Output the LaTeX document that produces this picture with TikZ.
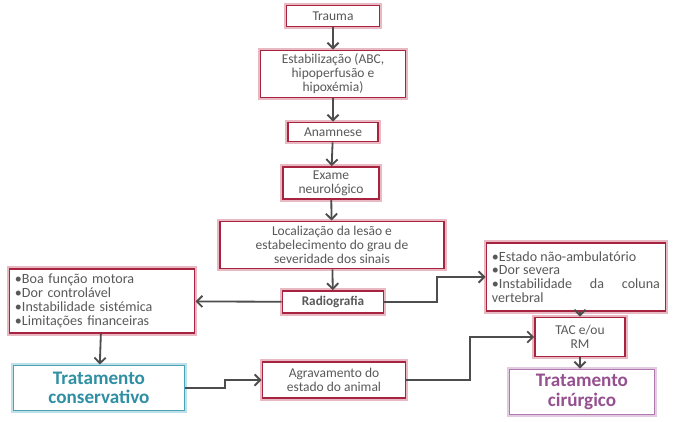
\documentclass[tikz,border=0pt]{standalone}
\usepackage{fontspec}
\setmainfont{Carlito}
\usetikzlibrary{arrows.meta}

\definecolor{boxred}{HTML}{A82340}
\definecolor{boxglow}{HTML}{E9B9C3}
\definecolor{tealline}{HTML}{4AA3B6}
\definecolor{tealglow}{HTML}{BFE0E8}
\definecolor{tealtext}{HTML}{2F8FA3}
\definecolor{purpline}{HTML}{B07AAE}
\definecolor{purpglow}{HTML}{E3CCE1}
\definecolor{purptext}{HTML}{955090}
\definecolor{txtgray}{HTML}{595959}
\definecolor{linkgray}{HTML}{4D4D4D}

\newcommand{\nohyph}{\hyphenpenalty=10000\relax}

\tikzset{
	box/.style={draw=boxred, line width=1.2pt, fill=white,
		preaction={draw=boxglow, line width=4pt},
		text=txtgray, font=\fontsize{9.6}{10}\selectfont, align=center, inner sep=1.5pt},
	listbox/.style={box, align=left, font=\fontsize{10}{9.8}\selectfont\nohyph, inner sep=4pt},
	endbox/.style={box, font=\fontsize{13.6}{14}\selectfont\bfseries},
	link/.style={draw=linkgray, line width=1.3pt, -{Straight Barb[length=4pt,width=8pt]}}
}

\begin{document}
\begin{tikzpicture}[x=0.025cm, y=-0.025cm]
	\useasboundingbox (0,0) rectangle (680,422);

	\begin{scope}
		\node [box, minimum width=2.33cm, minimum height=0.53cm] (trauma) at (333,16) {Trauma};
		\node [box, minimum width=3.63cm, minimum height=1.18cm] (estab) at (333,74) {Estabilização (ABC,\\ hipoperfusão e\\ hipoxémia)};
		\node [box, minimum width=2.25cm, minimum height=0.48cm] (anam) at (333,132) {Anamnese};
		\node [box, minimum width=2.4cm, minimum height=0.8cm] (exame) at (331,183) {Exame\\ neurológico};
		\node [box, minimum width=5.6cm, minimum height=1.18cm] (local) at (332,245) {Localização da lesão e\\ estabelecimento do grau de\\ severidade dos sinais};
		\node [box, minimum width=2.53cm, minimum height=0.55cm, font=\fontsize{9.4}{9.4}\selectfont\bfseries] (radio) at (333,302) {Radiografia};
	\end{scope}

	\begin{scope}
		\node [listbox, text width=4.35cm, minimum height=1.53cm] (boa) at (102,301) {•Boa função motora\\ •Dor controlável\\ •Instabilidade sistémica\\ •Limitações financeiras};
		\node [listbox, text width=4.2cm, minimum height=1.7cm, align=justify] (naoamb) at (576,277) {•Estado não-ambulatório\\ •Dor severa\\ •Instabilidade da coluna vertebral};
	\end{scope}

	\begin{scope}
		\node [endbox, draw=tealline, preaction={draw=tealglow, line width=4pt}, text=tealtext, minimum width=4.28cm, minimum height=1.13cm] (conserv) at (99,388) {Tratamento\\ conservativo};
		\node [box, minimum width=3.58cm, minimum height=0.9cm] (agrav) at (334,380) {Agravamento do\\ estado do animal};
		\node [box, minimum width=2.25cm, minimum height=0.98cm] (tac) at (580,337) {TAC e/ou\\ RM};
		\node [endbox, draw=purpline, preaction={draw=purpglow, line width=4pt}, text=purptext, minimum width=3.63cm, minimum height=1.13cm] (cirurg) at (582,392) {Tratamento\\ cirúrgico};
	\end{scope}

	\coordinate (k1) at (437,0);
	\coordinate (k2) at (225,0);
	\coordinate (k3) at (470,0);

	\begin{scope}[link]
		\draw (trauma) -- (estab);
		\draw (estab) -- (anam);
		\draw (anam) -- (exame);
		\draw (exame) -- (local);
		\draw (local) -- (radio);
		\draw (radio) -- (boa);
		\draw (radio.east) -- (radio.east -| k1) |- (naoamb.west);
		\draw (boa) -- (conserv);
		\draw (conserv.east) -- (conserv.east -| k2) |- (agrav.west);
		\draw (agrav.east) -- (agrav.east -| k3) |- (tac.west);
		\draw (naoamb.south -| tac) -- (tac);
		\draw (tac) -- (cirurg.north -| tac);
	\end{scope}
\end{tikzpicture}
\end{document}
